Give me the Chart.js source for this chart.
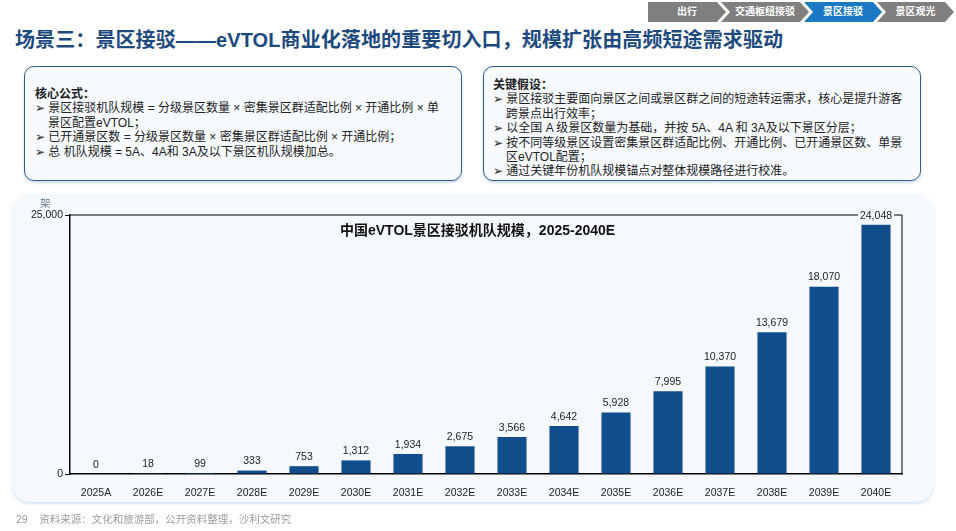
<!DOCTYPE html>
<html>
<head>
<meta charset="utf-8">
<script src="https://cdn.jsdelivr.net/npm/chart.js@4"></script>
<style>
  body { margin: 0; width: 956px; height: 531px; background: #fff; position: relative; overflow: hidden;
         font-family: "Liberation Sans", "Noto Sans CJK SC", sans-serif; }
  .tab { position: absolute; top: 2px; height: 20px; line-height: 20px; color: #fff; font-size: 10px; font-weight: bold;
         text-align: center; background: #7f7f7f;
         clip-path: polygon(0 0, calc(100% - 9px) 0, 100% 50%, calc(100% - 9px) 100%, 0 100%, 9px 50%); }
  .tab.first { clip-path: polygon(0 0, calc(100% - 9px) 0, 100% 50%, calc(100% - 9px) 100%, 0 100%); }
  .tab.on { background: #1b78c2; }
  #title { position: absolute; left: 15px; top: 24px; font-size: 20px; font-weight: bold; color: #1d4a7e; letter-spacing: 0.1px; }
  .box { position: absolute; top: 66px; height: 115px; border: 1.5px solid #2f5c8c; border-radius: 10px; background: #f7fbff;
         box-shadow: 0 2px 3px rgba(120,160,200,0.35); box-sizing: border-box; font-size: 12px; color: #222; line-height: 14.4px; }
  .box .hd { font-weight: bold; }
  .box .li { padding-left: 13px; text-indent: -13px; }
  #panel { position: absolute; left: 12px; top: 194px; width: 922px; height: 308px; border-radius: 18px; background: #f5f9fd;
           box-shadow: 0 2px 3px rgba(180,210,235,0.6); }
  #wrap { position: absolute; left: 0; top: 195px; width: 956px; height: 320px; }
  #ctitle { position: absolute; left: 340px; top: 219px; font-size: 14px; font-weight: bold; color: #111; }
  #unit { position: absolute; left: 40px; top: 195px; font-size: 10.5px; color: #6a7d95; }
  #foot { position: absolute; left: 16px; top: 511px; font-size: 10.5px; color: #9a9a9a; }
</style>
</head>
<body>
<div class="tab first" style="left:648px;width:78px;">出行</div>
<div class="tab" style="left:721px;width:88px;">交通枢纽接驳</div>
<div class="tab on" style="left:804px;width:78px;">景区接驳</div>
<div class="tab" style="left:877px;width:77px;">景区观光</div>

<div id="title">场景三：景区接驳——eVTOL商业化落地的重要切入口，规模扩张由高频短途需求驱动</div>

<div class="box" style="left:24px;width:438px;padding:20px 8px 0 10px;">
  <div class="hd">核心公式：</div>
  <div class="li">➢ 景区接驳机队规模 = 分级景区数量 × 密集景区群适配比例 × 开通比例 × 单<br>景区配置eVTOL；</div>
  <div class="li">➢ 已开通景区数 = 分级景区数量 × 密集景区群适配比例 × 开通比例；</div>
  <div class="li">➢ 总 机队规模 = 5A、4A和 3A及以下景区机队规模加总。</div>
</div>

<div class="box" style="left:483px;width:438px;padding:11px 8px 0 9px;">
  <div class="hd">关键假设：</div>
  <div class="li">➢ 景区接驳主要面向景区之间或景区群之间的短途转运需求，核心是提升游客<br>跨景点出行效率；</div>
  <div class="li">➢ 以全国 A 级景区数量为基础，并按 5A、4A 和 3A及以下景区分层；</div>
  <div class="li">➢ 按不同等级景区设置密集景区群适配比例、开通比例、已开通景区数、单景<br>区eVTOL配置；</div>
  <div class="li">➢ 通过关键年份机队规模锚点对整体规模路径进行校准。</div>
</div>

<div id="panel"></div>
<div id="wrap"><canvas id="myChart"></canvas></div>
<div id="unit">架</div>
<div id="ctitle">中国eVTOL景区接驳机队规模，2025-2040E</div>
<div id="foot">29&nbsp;&nbsp;&nbsp;&nbsp;资料来源：文化和旅游部，公开资料整理，沙利文研究</div>

<script>
var years = ['2025A', '2026E', '2027E', '2028E', '2029E', '2030E', '2031E', '2032E',
             '2033E', '2034E', '2035E', '2036E', '2037E', '2038E', '2039E', '2040E']
var fleet = [0, 18, 99, 333, 753, 1312, 1934, 2675, 3566, 4642, 5928, 7995, 10370, 13679, 18070, 24048]
var yTicks = [0, 25000]

var fmt = function (v) { return v.toLocaleString('en-US') }

// frame on top and right of the plot
var framePlugin = {
    id: 'frame',
    beforeDatasetsDraw: function (chart) {
        var a = chart.chartArea, c = chart.ctx
        c.save()
        c.strokeStyle = '#000'
        c.lineWidth = 1
        c.beginPath()
        c.moveTo(a.left, a.top)
        c.lineTo(a.right, a.top)
        c.lineTo(a.right, a.bottom)
        c.stroke()
        c.restore()
    }
}

// value labels above bars
var labelPlugin = {
    id: 'vals',
    afterDatasetsDraw: function (chart) {
        var c = chart.ctx
        var meta = chart.getDatasetMeta(0)
        c.save()
        c.font = '10.5px "Liberation Sans", sans-serif'
        c.textAlign = 'center'
        c.textBaseline = 'bottom'
        meta.data.forEach(function (bar, i) {
            var txt = fmt(fleet[i])
            var w = c.measureText(txt).width
            var y = bar.y - 4
            c.fillStyle = '#f5f9fd'
            c.fillRect(bar.x - w / 2 - 2, y - 11, w + 4, 11)
            c.fillStyle = '#222'
            c.fillText(txt, bar.x, y)
        })
        c.restore()
    }
}

var ctx = document.getElementById('myChart').getContext('2d')
var myChart = new Chart(ctx, {
    type: 'bar',
    data: {
        labels: years,
        datasets: [{
            data: fleet,
            backgroundColor: '#114d8b',
            barPercentage: 0.56,
            categoryPercentage: 1.0
        }]
    },
    options: {
        responsive: true,
        maintainAspectRatio: false,
        animation: false,
        layout: { padding: { left: 20, right: 54, top: 20, bottom: 11 } },
        plugins: { legend: { display: false }, tooltip: { enabled: false } },
        scales: {
            x: {
                grid: { display: false },
                border: { display: true, color: '#000', width: 1.5 },
                ticks: { color: '#222', font: { size: 10.5, family: 'Liberation Sans' }, padding: 5, maxRotation: 0 },
                afterFit: function (s) { s.height = 30 }
            },
            y: {
                min: yTicks[0],
                max: yTicks[1],
                afterBuildTicks: function (s) { s.ticks = yTicks.map(function (v) { return { value: v } }) },
                grid: { drawOnChartArea: false, drawTicks: true, tickLength: 5, color: '#000' },
                border: { display: true, color: '#000', width: 1.5 },
                ticks: { color: '#222', font: { size: 10.5, family: 'Liberation Sans' }, padding: 2,
                          callback: function (v) { return fmt(v) } },
                afterFit: function (s) { s.width = 50 }
            }
        }
    },
    plugins: [framePlugin, labelPlugin]
})
</script>
</body>
</html>
